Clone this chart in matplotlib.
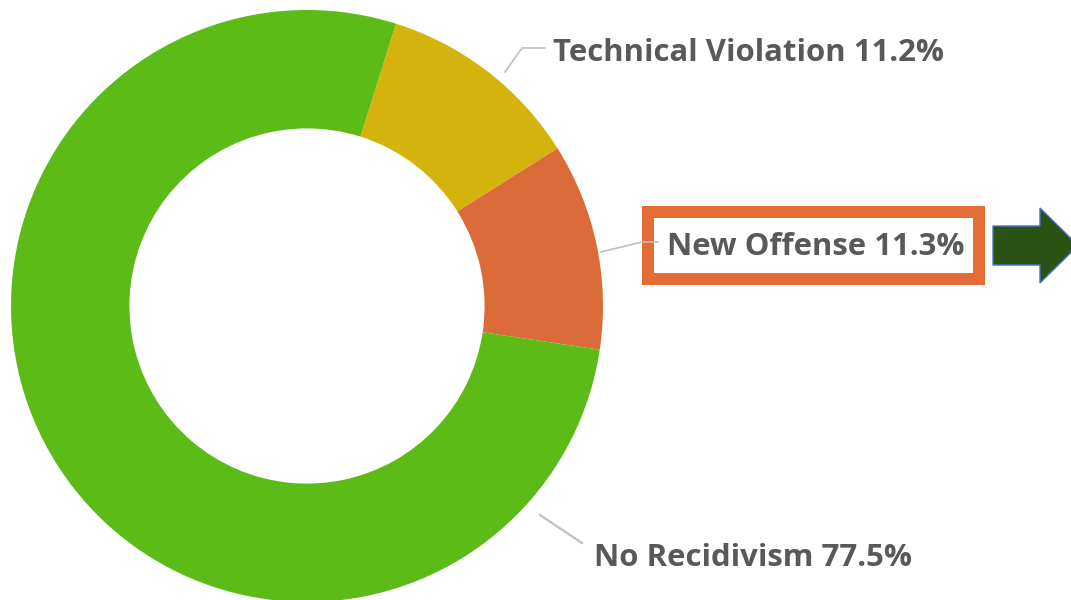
import matplotlib
matplotlib.use("Agg")
import matplotlib.pyplot as plt
from matplotlib.patches import Rectangle, FancyArrow

## Data
labels = ["Technical Violation", "New Offense", "No Recidivism"]
shares = [11.2, 11.3, 77.5]
colors = ["#D4B40C", "#DC6B3A", "#5CBB17"]

plt.rcParams['font.family'] = ['Open Sans', 'DejaVu Sans']

fig = plt.figure(figsize=(10.71, 6), dpi=100)
ax = fig.add_axes([0, 0, 1, 1])

## donut, pixel-like data units (y up)
R = 296
cx, cy = 307, 294
ax.pie(shares, colors=colors, startangle=72.5, counterclock=False,
       radius=R, center=(cx, cy),
       wedgeprops=dict(width=0.4 * R, linewidth=0))

ax.set_xlim(0, 1071)
ax.set_ylim(0, 600)
ax.set_aspect('equal')
ax.axis('off')

txt_col = "#595959"
line_col = "#BFBFBF"

## leader lines + labels
ax.plot([505, 522, 545], [600 - 72, 600 - 48, 600 - 48], color=line_col, lw=1.2)
ax.plot([601, 642, 658], [600 - 252, 600 - 242, 600 - 242], color=line_col, lw=1.2)
ax.plot([540, 582], [600 - 515, 600 - 543], color=line_col, lw=1.6)

fs = 22.4
ax.text(553, 600 - 53, f"{labels[0]} {shares[0]}%", fontsize=fs, fontweight='bold',
        color=txt_col, ha='left', va='center')
ax.text(667, 600 - 247, f"{labels[1]} {shares[1]}%", fontsize=fs, fontweight='bold',
        color=txt_col, ha='left', va='center')
ax.text(594, 600 - 558, f"{labels[2]} {shares[2]}%", fontsize=fs, fontweight='bold',
        color=txt_col, ha='left', va='center')

## highlight box and arrow
ax.add_patch(Rectangle((648, 600 - 279), 331, 67, fill=False,
                       edgecolor="#E46C36", linewidth=12 * 0.72))
ax.add_patch(FancyArrow(993, 600 - 245.5, 85, 0, width=39, head_width=75,
                        head_length=38, length_includes_head=True,
                        facecolor="#2B5414", edgecolor="#4472C4", linewidth=1))

fig.savefig("out.png", dpi=100)
